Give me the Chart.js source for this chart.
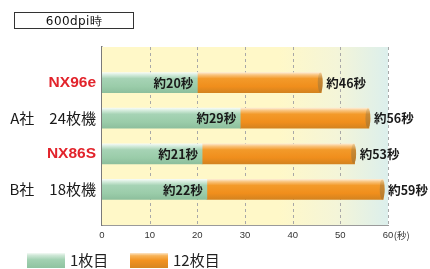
<!DOCTYPE html>
<html><head><meta charset="utf-8">
<script src="https://cdn.jsdelivr.net/npm/chart.js@4/dist/chart.umd.min.js"></script>
<style>
html,body{margin:0;padding:0;background:#fff;}
#wrap{position:relative;width:430px;height:269px;overflow:hidden;}
#c{position:absolute;left:0;top:0;}
.title{position:absolute;left:14px;top:12px;width:118px;height:15px;border:1px solid #333;font:12px "DejaVu Sans",sans-serif;letter-spacing:0.4px;text-align:center;line-height:16px;color:#111;}
.lg{position:absolute;top:253px;width:38px;height:15px;}
.lt{position:absolute;top:250px;font:15px "Noto Sans CJK JP",sans-serif;color:#222;line-height:20px;}
</style></head>
<body><div id="wrap">
<canvas id="c" width="430" height="269"></canvas>
<div class="title">600dpi時</div>
<div class="lg" style="left:27px;background:linear-gradient(#f4faf5 0%,#cfe8d7 15%,#a2d1b2 45%,#8fc3a0 100%)"></div>
<div class="lt" style="left:70px">1枚目</div>
<div class="lg" style="left:130px;background:linear-gradient(#fde6c8 0%,#f7b45a 18%,#f2921f 50%,#d7851f 100%)"></div>
<div class="lt" style="left:173px">12枚目</div>
</div>
<script>
const categories = ['NX96e', 'A社\u300024枚機', 'NX86S', 'B社\u300018枚機'];
const highlight = [true, false, true, false];
const firstPage = [20, 29, 21, 22];
const twelfthPage = [46, 56, 53, 59];
const firstLabels = ['約20秒', '約29秒', '約21秒', '約22秒'];
const totalLabels = ['約46秒', '約56秒', '約53秒', '約59秒'];
const xTicks = [0, 10, 20, 30, 40, 50, 60];
const seriesNames = ['1枚目', '12枚目'];

const labels = ['', ...categories, ''];
const greenData = [null, ...firstPage.map(v => [0, v]), null];
const orangeData = [null, ...firstPage.map((v, i) => [v, twelfthPage[i]]), null];

function gradFill(stops, fallback) {
  return function (c) {
    const chart = c.chart;
    const y = chart.scales && chart.scales.y;
    if (!y || c.dataIndex === undefined || !chart.chartArea) return fallback;
    const yc = y.getPixelForValue(c.dataIndex);
    const g = chart.ctx.createLinearGradient(0, yc - 10, 0, yc + 10);
    stops.forEach(s => g.addColorStop(s[0], s[1]));
    return g;
  };
}

const greenStops = [[0, '#f4faf5'], [0.12, '#d3ebdb'], [0.3, '#a6d3b5'], [0.7, '#9acca9'], [1, '#8dbf9d']];
const orangeStops = [[0, '#fde8cc'], [0.12, '#f9c37c'], [0.3, '#f39a2a'], [0.7, '#f08e1c'], [1, '#d4831f']];

const deco = {
  id: 'deco',
  beforeDatasetsDraw(chart) {
    const { ctx, chartArea: a } = chart;
    ctx.save();
    const g = ctx.createLinearGradient(a.left, 0, a.right, 0);
    g.addColorStop(0, '#fff8c8');
    g.addColorStop(0.62, '#fff8c8');
    g.addColorStop(0.82, '#f4f5d8');
    g.addColorStop(1, '#dcefec');
    ctx.fillStyle = g;
    ctx.fillRect(a.left, a.top, a.right - a.left, a.bottom - a.top);
    // dashed grid
    const x = chart.scales.x;
    ctx.strokeStyle = '#a8a8a8';
    ctx.lineWidth = 1;
    ctx.setLineDash([3, 3]);
    xTicks.forEach(v => {
      if (v === 0) return;
      const px = Math.round(x.getPixelForValue(v)) + 0.5;
      ctx.beginPath(); ctx.moveTo(px, a.top); ctx.lineTo(px, a.bottom); ctx.stroke();
    });
    ctx.restore();
  },
  afterDatasetsDraw(chart) {
    const { ctx } = chart;
    const mg = chart.getDatasetMeta(0), mo = chart.getDatasetMeta(1);
    ctx.save();
    mo.data.forEach((el, i) => {
      if (orangeData[i] == null) return;
      const h = el.height / 2;
      const g = ctx.createLinearGradient(0, el.y - h, 0, el.y + h);
      g.addColorStop(0, '#f0cf9a'); g.addColorStop(0.3, '#c98a35'); g.addColorStop(1, '#b77a2a');
      ctx.fillStyle = g;
      ctx.beginPath();
      ctx.ellipse(el.x - 1, el.y, 2.5, h, 0, 0, Math.PI * 2);
      ctx.fill();
    });
    ctx.fillStyle = '#1a1a1a';
    ctx.font = 'bold 12.5px "Noto Sans CJK JP", sans-serif';
    ctx.textBaseline = 'middle';
    mg.data.forEach((el, i) => {
      if (greenData[i] == null) return;
      ctx.textAlign = 'right';
      ctx.fillText(firstLabels[i - 1], el.x - 4, el.y + 0.5);
    });
    mo.data.forEach((el, i) => {
      if (orangeData[i] == null) return;
      ctx.textAlign = 'left';
      ctx.fillText(totalLabels[i - 1], el.x + 5, el.y + 0.5);
    });
    ctx.restore();
  },
  afterDraw(chart) {
    const { ctx } = chart;
    const x = chart.scales.x;
    const px = x.getPixelForValue(xTicks[xTicks.length - 1]);
    ctx.save();
    ctx.font = '9.5px "Liberation Sans", Arial, sans-serif';
    const w = ctx.measureText(String(xTicks[xTicks.length - 1])).width;
    ctx.fillStyle = '#333';
    ctx.textBaseline = 'middle';
    ctx.textAlign = 'left';
    ctx.font = '9.5px "Noto Sans CJK JP", sans-serif';
    ctx.fillText('(秒)', px + w / 2 + 0.5, chart.chartArea.bottom + 10);
    ctx.restore();
  }
};

new Chart(document.getElementById('c'), {
  type: 'bar',
  data: {
    labels,
    datasets: [
      { label: seriesNames[0], data: greenData, grouped: false, barThickness: 20,
        backgroundColor: gradFill(greenStops, '#9fcfae'), borderWidth: 0 },
      { label: seriesNames[1], data: orangeData, grouped: false, barThickness: 20,
        backgroundColor: gradFill(orangeStops, '#f39a2a'), borderWidth: 0 }
    ]
  },
  options: {
    indexAxis: 'y',
    responsive: false,
    animation: false,
    layout: { padding: { top: 47, right: 42, left: 0, bottom: 0 } },
    plugins: { legend: { display: false }, tooltip: { enabled: false } },
    scales: {
      x: {
        min: 0, max: 60,
        afterBuildTicks(s) { s.ticks = xTicks.map(v => ({ value: v })); },
        afterFit(s) { s.height = 44; },
        grid: { display: false, drawTicks: false },
        border: { display: true, color: '#9a9a9a', width: 1 },
        ticks: { padding: 5, color: '#333', font: { family: '"Liberation Sans", Arial, sans-serif', size: 9.5 }, maxRotation: 0 }
      },
      y: {
        type: 'category',
        offset: false,
        afterFit(s) { s.width = 102; },
        grid: { display: false, drawTicks: false },
        border: { display: true, color: '#7a7a7a', width: 1.5 },
        ticks: {
          padding: 6,
          autoSkip: false,
          color: c => highlight[c.index - 1] ? '#e2232b' : '#1a1a1a',
          font: c => highlight[c.index - 1]
            ? { family: '"Liberation Sans", Arial, sans-serif', size: 15.5, weight: 'bold' }
            : { family: '"Noto Sans CJK JP", sans-serif', size: 15, weight: 'normal' }
        }
      }
    }
  },
  plugins: [deco]
});
</script>
</body></html>
